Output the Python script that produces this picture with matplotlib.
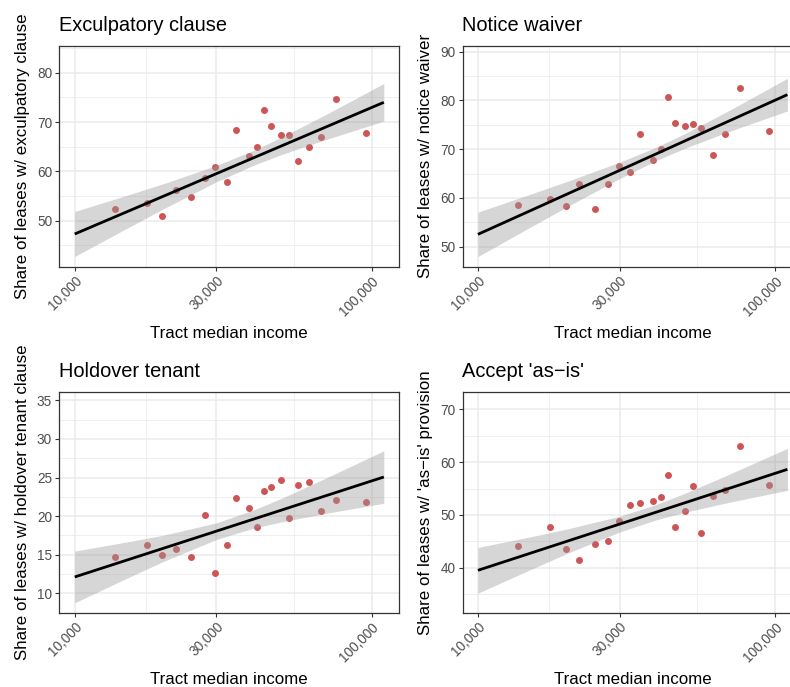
import matplotlib
matplotlib.use("Agg")
import matplotlib.pyplot as plt
from matplotlib.ticker import FixedLocator, NullFormatter

plt.rcParams['font.family'] = ['Liberation Sans', 'DejaVu Sans']

# tract median income (same tracts in every panel)
income = [13640, 17480, 19750, 21900, 24740, 27430, 29720, 32540, 35070, 38680,
          41170, 43460, 45890, 49610, 52920, 56450, 61640, 67680, 76020, 95450]

exculpatory = [52.4, 53.5, 50.9, 56.3, 54.8, 58.6, 60.9, 57.8, 68.3, 63.1,
               64.9, 72.4, 69.2, 67.3, 67.4, 62.0, 64.9, 67.0, 74.7, 67.7]
notice = [58.5, 59.7, 58.3, 62.9, 57.7, 62.8, 66.6, 65.3, 73.2, 67.8,
          70.0, 80.8, 75.3, 74.7, 75.1, 74.4, 68.8, 73.1, 82.6, 73.7]
holdover = [14.7, 16.3, 15.0, 15.8, 14.7, 20.2, 12.6, 16.3, 22.3, 21.0,
            18.6, 23.2, 23.8, 24.7, 19.7, 24.0, 24.4, 20.7, 22.1, 21.8]
as_is = [44.1, 47.7, 43.6, 41.4, 44.5, 45.0, 48.8, 51.9, 52.3, 52.6,
         53.4, 57.6, 47.7, 50.8, 55.4, 46.6, 53.5, 54.7, 63.1, 55.7]

# fitted line (ends) and its 95% band
smooth_x = [10000, 110000]
smooth_y = [[47.3, 73.99], [52.53, 81.18], [12.12, 25.07], [39.5, 58.63]]
band_x = [10000, 15000, 20000, 30000, 40000, 50000, 70000, 110000]
band_lo = [[42.74, 48.47, 52.48, 57.87, 61.22, 63.46, 66.43, 70.17],
           [47.98, 53.99, 58.22, 63.99, 67.72, 70.25, 73.63, 77.83],
           [8.77, 11.97, 14.17, 16.97, 18.44, 19.27, 20.35, 21.67],
           [35.17, 39.62, 42.72, 46.77, 49.10, 50.53, 52.38, 54.65]]
band_hi = [[51.86, 55.15, 57.54, 61.19, 64.24, 66.98, 71.49, 77.81],
           [57.08, 60.75, 63.40, 67.33, 70.46, 73.27, 77.93, 84.53],
           [15.47, 16.66, 17.55, 19.13, 20.79, 22.35, 24.91, 28.47],
           [43.83, 45.84, 47.34, 49.75, 52.02, 54.15, 57.68, 62.61]]

titles = ["Exculpatory clause", "Notice waiver", "Holdover tenant", "Accept 'as\u2212is'"]
ylabels = ["Share of leases w/ exculpatory clause", "Share of leases w/ notice waiver",
           "Share of leases w/ holdover tenant clause", "Share of leases w/ 'as\u2212is' provision"]
yticks = [[50, 60, 70, 80], [50, 60, 70, 80, 90], [10, 15, 20, 25, 30, 35], [40, 50, 60, 70]]
ylims = [(40.67, 85.47), (45.89, 91.22), (7.49, 36.12), (31.47, 73.34)]
xticks = [10000, 30000, 100000]
xticklabels = ["10,000", "30,000", "100,000"]
xminor = [17320, 54770]
series = [exculpatory, notice, holdover, as_is]

W, H = 790, 687
fig = plt.figure(figsize=(W / 100, H / 100), dpi=100)

# panel boxes in pixels: left, top, width, height
boxes = [(59.3, 45.7, 340.0, 221.0), (462.5, 45.7, 340.4, 221.0),
         (59.3, 391.7, 340.0, 221.0), (462.5, 391.7, 340.4, 221.0)]

for i, y in enumerate(series):
    l, t, w, h = boxes[i]
    ax = fig.add_axes([l / W, 1 - (t + h) / H, w / W, h / H])

    ax.scatter(income, y, s=25, color='#CD5555', linewidths=0, zorder=2)
    ax.fill_between(band_x, band_lo[i], band_hi[i], color='#999999', alpha=0.4,
                    linewidth=0, zorder=3)
    ax.plot(smooth_x, smooth_y[i], color='black', lw=2.0, zorder=4,
            solid_capstyle='butt')

    ax.set_xscale('log')
    ax.set_xlim(10 ** 3.948, 10 ** 5.0936)
    ax.xaxis.set_major_locator(FixedLocator(xticks))
    ax.xaxis.set_minor_locator(FixedLocator(xminor))
    ax.xaxis.set_minor_formatter(NullFormatter())
    ax.set_xticklabels(xticklabels, rotation=45, ha='right', va='top',
                       rotation_mode='anchor')

    ax.set_ylim(*ylims[i])
    ax.yaxis.set_major_locator(FixedLocator(yticks[i]))
    step = yticks[i][1] - yticks[i][0]
    ax.yaxis.set_minor_locator(FixedLocator([v + step / 2 for v in
                                             [yticks[i][0] - step] + yticks[i]]))

    ax.grid(True, which='major', color='#EBEBEB', lw=1.1, zorder=0)
    ax.grid(True, which='minor', color='#EBEBEB', lw=0.55, zorder=0)
    ax.set_axisbelow(True)

    ax.tick_params(which='major', direction='out', length=3.2, width=0.8,
                   color='#333333', labelcolor='#4D4D4D', labelsize=9.8, pad=2)
    ax.tick_params(which='minor', length=0)
    for sp in ax.spines.values():
        sp.set_color('#333333')
        sp.set_linewidth(0.9)

    ax.set_xlabel("Tract median income", fontsize=12.2, color='black')
    ax.xaxis.label.set_va('center')
    ax.xaxis.set_label_coords(0.5, -0.30)
    ax.set_ylabel(ylabels[i], fontsize=12.2, color='black')
    ax.yaxis.label.set_va('center')
    ax.yaxis.set_label_coords(-37.0 / w, 0.5)

    ax.text(0.0, 1 + 14.5 / h, titles[i], transform=ax.transAxes, fontsize=14.4,
            ha='left', va='baseline', color='black')

fig.savefig("out.png", dpi=100)
